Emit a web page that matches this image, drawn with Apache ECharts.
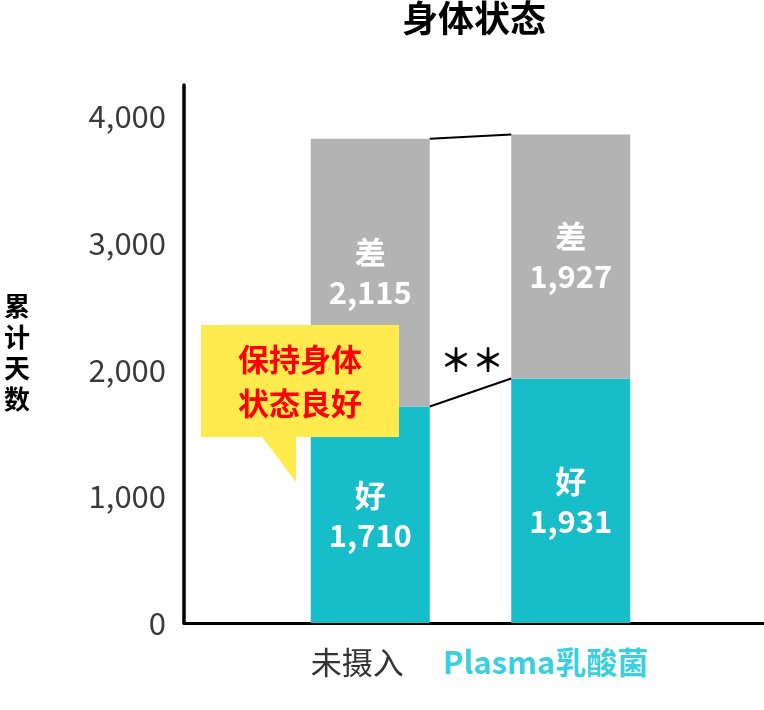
<!DOCTYPE html>
<html>
<head>
<meta charset="utf-8">
<script src="https://cdn.jsdelivr.net/npm/echarts@6/dist/echarts.min.js"></script>
<style>html,body{margin:0;padding:0;background:#fff;}#c{width:764px;height:710px;}</style>
</head>
<body>
<div id="c"></div>
<script>
// ---- data ----
const categories = ['未摄入', 'Plasma乳酸菌'];
const goodDays = [1710, 1931];
const poorDays = [2115, 1927];
const yTicks = [0, 1000, 2000, 3000, 4000];
const goodName = '好';
const poorName = '差';

// ---- derived ----
const totals = goodDays.map((g, i) => g + poorDays[i]);
const connectors = [
  [0, totals[0], 1, totals[1]],
  [0, goodDays[0], 1, goodDays[1]]
];

const FONT = '"Noto Sans CJK SC", "Noto Sans CJK JP", sans-serif';
const BAR_W = 119;
const Y_MAX = 4250;
const fmt = v => Number(v).toLocaleString('en-US');

const chart = echarts.init(document.getElementById('c'));
chart.setOption({
  animation: false,
  textStyle: { fontFamily: FONT },
  title: {
    text: '身体状态',
    left: 474,
    top: 0,
    padding: 0,
    textAlign: 'center',
    textStyle: { fontFamily: FONT, fontSize: 36, fontWeight: 'bold', color: '#000', lineHeight: 36 }
  },
  grid: [
    { left: 184, right: 0, top: 85, bottom: 87 },
    { left: 270, right: 93, top: 85, bottom: 87 }
  ],
  xAxis: [
    {
      gridIndex: 0, type: 'category', data: [''],
      axisLine: { lineStyle: { color: '#000', width: 3 } },
      axisTick: { show: false }, axisLabel: { show: false }, splitLine: { show: false }
    },
    {
      gridIndex: 1, type: 'category', data: categories,
      axisLine: { show: false }, axisTick: { show: false },
      axisLabel: {
        margin: 24,
        formatter: (v, i) => '{c' + i + '|' + v + '}',
        rich: {
          c0: { fontFamily: FONT, fontSize: 31, color: '#333', padding: [0, 26, 0, 0] },
          c1: { fontFamily: FONT, fontSize: 31, color: '#3ccfe0', fontWeight: 'bold', padding: [0, 50, 0, 0] }
        }
      }
    }
  ],
  yAxis: [
    {
      gridIndex: 0, type: 'value', min: yTicks[0], max: Y_MAX, interval: yTicks[1] - yTicks[0],
      axisLine: { show: true, lineStyle: { color: '#000', width: 3.5 } },
      axisTick: { show: false }, splitLine: { show: false },
      axisLabel: {
        margin: 18, fontFamily: FONT, fontSize: 31, color: '#3a3a3a',
        showMaxLabel: false,
        formatter: v => (yTicks.indexOf(v) >= 0 ? fmt(v) : '')
      }
    },
    {
      gridIndex: 1, type: 'value', min: yTicks[0], max: Y_MAX, show: false
    }
  ],
  series: [
    {
      name: goodName, type: 'bar', stack: 'days', xAxisIndex: 1, yAxisIndex: 1,
      barWidth: BAR_W, data: goodDays,
      itemStyle: { color: '#17bec9' },
      label: {
        show: true, position: 'inside', color: '#fff', fontFamily: FONT,
        fontSize: 31, fontWeight: 'bold', lineHeight: 40,
        formatter: p => goodName + '\n' + fmt(p.value)
      }
    },
    {
      name: poorName, type: 'bar', stack: 'days', xAxisIndex: 1, yAxisIndex: 1,
      barWidth: BAR_W, data: poorDays,
      itemStyle: { color: '#b3b3b3' },
      label: {
        show: true, position: 'inside', color: '#fff', fontFamily: FONT,
        fontSize: 31, fontWeight: 'bold', lineHeight: 40,
        formatter: p => poorName + '\n' + fmt(p.value)
      }
    },
    {
      type: 'custom', xAxisIndex: 1, yAxisIndex: 1,
      data: connectors,
      encode: { x: [0, 2], y: [1, 3] },
      z: 5,
      renderItem: (params, api) => {
        const p0 = api.coord([api.value(0), api.value(1)]);
        const p1 = api.coord([api.value(2), api.value(3)]);
        return {
          type: 'line',
          shape: { x1: p0[0] + BAR_W / 2, y1: p0[1], x2: p1[0] - BAR_W / 2, y2: p1[1] },
          style: { stroke: '#000', lineWidth: 2 }
        };
      }
    }
  ],
  graphic: [
    {
      type: 'text', left: 4, top: 291, z: 10,
      style: {
        text: '累\n计\n天\n数', fontFamily: FONT, fontSize: 26, fontWeight: 'bold',
        lineHeight: 31, fill: '#000', align: 'center'
      }
    },
    {
      type: 'polygon', z: 20,
      shape: { points: [[201, 325], [399, 325], [399, 437], [296, 437], [296, 482], [262, 437], [201, 437]] },
      style: { fill: '#ffeb4d' }
    },
    {
      type: 'text', z: 21, x: 300, y: 381,
      style: {
        text: '保持身体\n状态良好', fontFamily: FONT, fontSize: 31, fontWeight: 'bold',
        lineHeight: 44, fill: '#ff0000', align: 'center', verticalAlign: 'middle'
      }
    },
    {
      type: 'text', z: 21, x: 472, y: 360,
      style: {
        text: '＊＊', fontFamily: FONT, fontSize: 32, fontWeight: 'bold', fill: '#000',
        align: 'center', verticalAlign: 'middle'
      }
    }
  ]
});
</script>
</body>
</html>
